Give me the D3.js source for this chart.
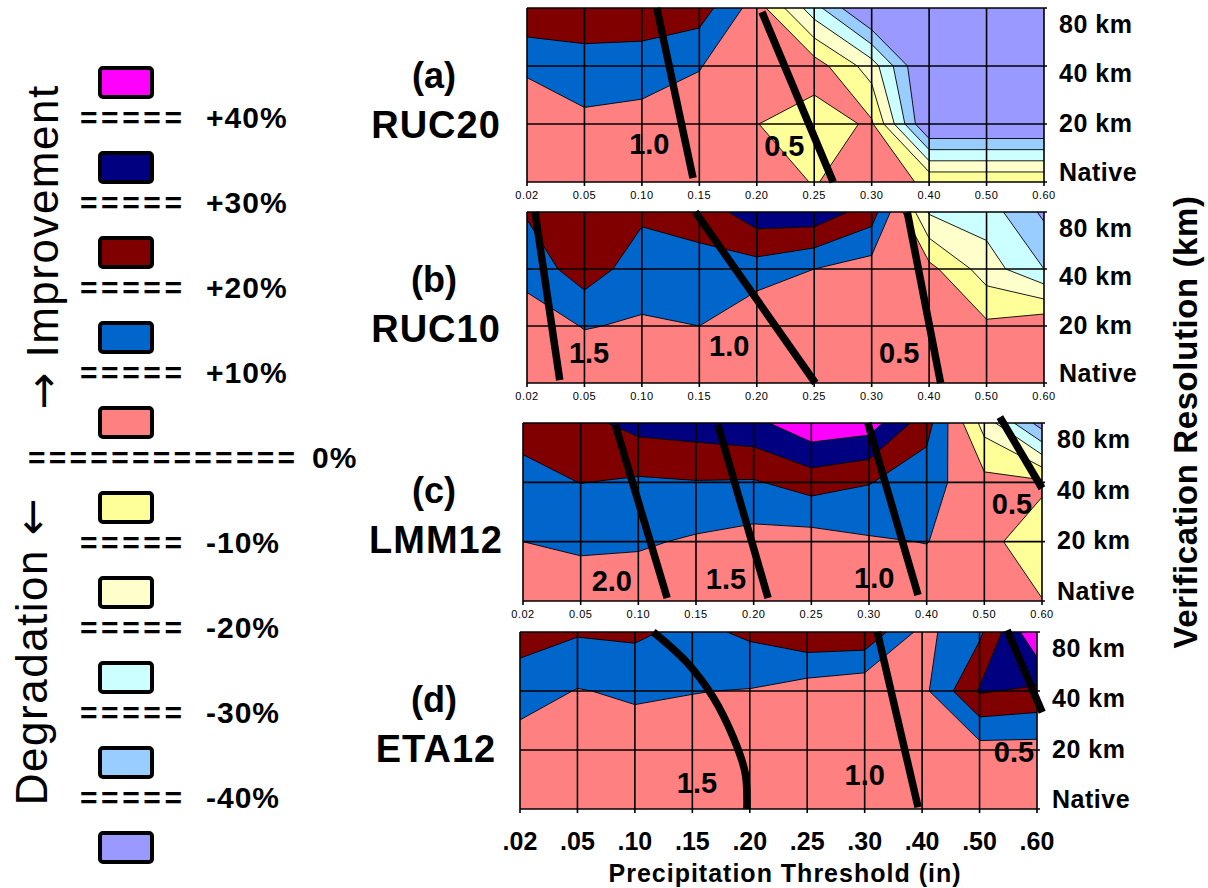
<!DOCTYPE html>
<html>
<head>
<meta charset="utf-8">
<script src="https://cdn.jsdelivr.net/npm/d3@7"></script>
<style>
body { margin: 0; background: #fff; }
svg text { font-family: "Liberation Sans", Arial, sans-serif; fill: #000; }
</style>
</head>
<body>
<div id="chart"></div>
<script>
var thresholds = [".02", ".05", ".10", ".15", ".20", ".25", ".30", ".40", ".50", ".60"];
var smallTicks = ["0.02", "0.05", "0.10", "0.15", "0.20", "0.25", "0.30", "0.40", "0.50", "0.60"];
var resolutions = ["80 km", "40 km", "20 km", "Native"];

var bandBreaks = [-40, -30, -20, -10, 0, 10, 20, 30, 40];
var bandColors = ["#9999ff", "#99ccff", "#ccffff", "#ffffcc", "#ffff99",
                  "#ff8080", "#0066cc", "#800000", "#000080", "#ff00ff"];
var legendLabels = ["+40%", "+30%", "+20%", "+10%", "0%", "-10%", "-20%", "-30%", "-40%"];

// % improvement, rows 80 km -> Native, columns = thresholds
var ruc20 = [
    [28, 28, 28, 25, 5, -26, -55, -55, -55, -55],
    [12, 15, 14, 10.5, 2, 5, -15, -55, -55, -55],
    [2, 8, 7, 5, 0.2, -5, 1.5, -53, -53, -53],
    [3, 3, 3, 3, 3, -0.3, 3, -1, -1, -1]
];
var ruc10 = [
    [21, 27, 22, 24, 36, 37, 25, -21, -25, -42],
    [13.5, 25.6, 14.3, 16.6, 15.7, 10, 5.3, 3, -15, -30],
    [5, 10.5, 8.9, 10, 1, 3, 3, 3, 2, 8],
    [3, 3, 3, 3, 3, 3, 3, 3, 3, 3]
];
var lmm12 = [
    [24, 27, 33.5, 35, 37.3, 47.4, 45, 24, -14, -45],
    [16.5, 20.2, 18.5, 19.5, 19.1, 24.4, 20.5, 14, 3, 2],
    [10, 12.2, 11.4, 8.6, 6.1, 5.4, 8.8, 10.3, 3, -6],
    [3, 3, 3, 3, 3, 3, 3, 3, 3, 0.3]
];
var eta12 = [
    [24, 21, 22, 17, 22, 28, 28, 7, 18, 49],
    [15, 9.5, 11.5, 10.3, 9.5, 5, 2, 7, 31, 28],
    [4.8, 4, 5, 5, 5, 5, 5, 5, 6, 6],
    [3, 3, 3, 3, 3, 3, 3, 3, 3, 3]
];

// bias contours: [threshold index, resolution index (0 = Native, 3 = 80 km)]
var ruc20Bias = [
    {label: "1.0", line: [[2.26, 3], [2.89, 0.07]], at: [2.13, 0.66]},
    {label: "0.5", line: [[4.09, 2.93], [5.33, 0]], at: [4.48, 0.62]}
];
var ruc10Bias = [
    {label: "1.5", line: [[0.14, 3], [0.57, 0.05]], at: [1.08, 0.53]},
    {label: "1.0", line: [[2.93, 3], [5.02, 0]], at: [3.52, 0.65]},
    {label: "0.5", line: [[6.62, 3], [7.2, 0]], at: [6.48, 0.53]}
];
var lmm12Bias = [
    {label: "2.0", line: [[1.6, 2.97], [2.5, 0.05]], at: [1.54, 0.34]},
    {label: "1.5", line: [[3.38, 2.97], [4.25, 0.05]], at: [3.52, 0.37]},
    {label: "1.0", line: [[5.98, 3], [6.85, 0.1]], at: [6.09, 0.4]},
    {label: "0.5", line: [[8.27, 3.1], [9.0, 1.9]], at: [8.48, 1.65]}
];
var eta12Bias = [
    {label: "1.5", line: [[2.32, 3], [2.91, 2.48], [3.36, 1.9], [3.71, 1.22], [3.92, 0.61], [3.95, 0]], at: [3.08, 0.44]},
    {label: "1.0", line: [[6.22, 3], [6.93, 0.03]], at: [6.0, 0.58]},
    {label: "0.5", line: [[8.48, 3.03], [9.09, 1.64]], at: [8.6, 0.97]}
];

var panels = [
    {tag: "(a)", model: "RUC20", values: ruc20, bias: ruc20Bias, x0: 527, x1: 1044, y0: 8, y1: 182},
    {tag: "(b)", model: "RUC10", values: ruc10, bias: ruc10Bias, x0: 527, x1: 1044, y0: 212, y1: 383},
    {tag: "(c)", model: "LMM12", values: lmm12, bias: lmm12Bias, x0: 523, x1: 1042, y0: 423, y1: 601},
    {tag: "(d)", model: "ETA12", values: eta12, bias: eta12Bias, x0: 520, x1: 1037, y0: 632, y1: 809}
];

var full_width = 1208, full_height = 888;

var svg = d3.select("#chart")
    .append("svg")
    .attr("width", full_width)
    .attr("height", full_height);

var nx = thresholds.length, ny = resolutions.length;

// contour the negated field so that at saddle cells the higher values stay joined
var contours = d3.contours()
    .size([nx, ny])
    .thresholds(bandBreaks.map(function(t) { return -t; }));

panels.forEach(function(p, k) {
    var x = d3.scaleLinear().domain([0, nx - 1]).range([p.x0, p.x1]);
    var row = d3.scaleLinear().domain([0, ny - 1]).range([p.y0, p.y1]);   // 0 = 80 km
    var res = d3.scaleLinear().domain([0, ny - 1]).range([p.y1, p.y0]);   // 0 = Native
    var label_y = d3.scalePoint().domain(resolutions).range([p.y0 + 16, p.y1 - 10]);

    var proj = d3.geoTransform({
        point: function(cx, cy) { this.stream.point(x(cx - 0.5), row(cy - 0.5)); }
    });
    var path = d3.geoPath(proj);

    svg.append("clipPath")
        .attr("id", "clip" + k)
        .append("rect")
        .attr("x", p.x0).attr("y", p.y0)
        .attr("width", p.x1 - p.x0).attr("height", p.y1 - p.y0);

    var g = svg.append("g").attr("clip-path", "url(#clip" + k + ")");

    g.append("rect")
        .attr("x", p.x0).attr("y", p.y0)
        .attr("width", p.x1 - p.x0).attr("height", p.y1 - p.y0)
        .attr("fill", bandColors[bandColors.length - 1]);

    var neg = d3.merge(p.values).map(function(v) { return -v; });

    // each polygon is the area at or below one break: paint largest first
    g.selectAll("path.band")
        .data(contours(neg))
        .enter().append("path")
        .attr("class", "band")
        .attr("d", path)
        .attr("fill", function(d) { return bandColors[bandBreaks.indexOf(-d.value)]; })
        .attr("stroke", "#000")
        .attr("stroke-width", 0.9)
        .attr("stroke-linejoin", "round");

    // grid
    svg.append("g").selectAll("line.v")
        .data(thresholds)
        .enter().append("line")
        .attr("x1", function(d, i) { return x(i); })
        .attr("x2", function(d, i) { return x(i); })
        .attr("y1", p.y0)
        .attr("y2", p.y1 + 4)
        .attr("stroke", "#000")
        .attr("stroke-width", 1.6);

    svg.append("g").selectAll("line.h")
        .data(resolutions)
        .enter().append("line")
        .attr("x1", p.x0)
        .attr("x2", p.x1 + 3)
        .attr("y1", function(d, i) { return row(i); })
        .attr("y2", function(d, i) { return row(i); })
        .attr("stroke", "#000")
        .attr("stroke-width", 1.6);

    // bias contours
    var line = d3.line()
        .x(function(d) { return x(d[0]); })
        .y(function(d) { return res(d[1]); })
        .curve(d3.curveCatmullRom);

    svg.append("g").selectAll("path.bias")
        .data(p.bias)
        .enter().append("path")
        .attr("d", function(d) { return line(d.line); })
        .attr("fill", "none")
        .attr("stroke", "#000")
        .attr("stroke-width", 7.5);

    svg.append("g").selectAll("text.bias")
        .data(p.bias)
        .enter().append("text")
        .attr("x", function(d) { return x(d.at[0]); })
        .attr("y", function(d) { return res(d.at[1]); })
        .attr("dy", "0.36em")
        .attr("text-anchor", "middle")
        .style("font-size", "29px")
        .style("font-weight", "bold")
        .text(function(d) { return d.label; });

    // resolution labels
    svg.append("g").selectAll("text.res")
        .data(resolutions)
        .enter().append("text")
        .attr("x", p.x1 + 15)
        .attr("y", function(d) { return label_y(d); })
        .attr("dy", "0.36em")
        .style("font-size", "25px")
        .style("font-weight", "bold")
        .style("letter-spacing", "0.5px")
        .text(function(d) { return d; });

    // panel title
    svg.append("text")
        .attr("x", 434).attr("y", p.y0 + 80)
        .attr("text-anchor", "middle")
        .style("font-size", "36px")
        .style("font-weight", "bold")
        .text(p.tag);
    svg.append("text")
        .attr("x", 436).attr("y", p.y0 + 130)
        .attr("text-anchor", "middle")
        .style("font-size", "38px")
        .style("font-weight", "bold")
        .style("letter-spacing", "1px")
        .text(p.model);

    if (k < 3) {
        svg.append("g").selectAll("text.tick")
            .data(smallTicks)
            .enter().append("text")
            .attr("x", function(d, i) { return x(i); })
            .attr("y", p.y1 + 13)
            .attr("dy", "0.35em")
            .attr("text-anchor", "middle")
            .style("font-size", "11px")
            .style("letter-spacing", "0.5px")
            .text(function(d) { return d; });
    } else {
        svg.append("g").selectAll("text.tick")
            .data(thresholds)
            .enter().append("text")
            .attr("x", function(d, i) { return x(i); })
            .attr("y", p.y1 + 41)
            .attr("text-anchor", "middle")
            .style("font-size", "25px")
            .style("font-weight", "bold")
            .text(function(d) { return d; });
        svg.append("text")
            .attr("x", 785).attr("y", 882)
            .attr("text-anchor", "middle")
            .style("font-size", "25px")
            .style("font-weight", "bold")
            .style("letter-spacing", "1px")
            .text("Precipitation Threshold (in)");
    }
});

// right axis title
svg.append("text")
    .attr("transform", "translate(1197,422) rotate(-90)")
    .attr("text-anchor", "middle")
    .style("font-size", "33px")
    .style("font-weight", "bold")
    .style("letter-spacing", "0.6px")
    .text("Verification Resolution (km)");

// legend
var legend_y = d3.scaleLinear().domain([0, bandColors.length - 1]).range([68, 833]);
var legendColors = bandColors.slice().reverse();

svg.append("g").selectAll("rect.key")
    .data(legendColors)
    .enter().append("rect")
    .attr("x", 100)
    .attr("y", function(d, i) { return legend_y(i); })
    .attr("width", 52)
    .attr("height", 29)
    .attr("rx", 3)
    .attr("fill", function(d) { return d; })
    .attr("stroke", "#000")
    .attr("stroke-width", 4);

svg.append("g").selectAll("text.eq")
    .data(legendLabels)
    .enter().append("text")
    .attr("x", function(d) { return d === "0%" ? 28 : 80; })
    .attr("y", function(d, i) { return legend_y(i) + 60; })
    .attr("textLength", function(d) { return d === "0%" ? 267 : 102; })
    .attr("lengthAdjust", "spacing")
    .style("font-size", "30px")
    .style("font-weight", "bold")
    .text(function(d) { return d === "0%" ? "=============" : "====="; });

svg.append("g").selectAll("text.pct")
    .data(legendLabels)
    .enter().append("text")
    .attr("x", function(d) { return d === "0%" ? 312 : 206; })
    .attr("y", function(d, i) { return legend_y(i) + 60; })
    .style("font-size", "30px")
    .style("font-weight", "bold")
    .style("letter-spacing", "1px")
    .text(function(d) { return d; });

var up = svg.append("text")
    .attr("transform", "translate(58,247) rotate(-90)")
    .attr("text-anchor", "middle")
    .style("font-size", "44px")
    .style("letter-spacing", "1.5px");
up.append("tspan").style("font-family", "DejaVu Sans").text("\u2192");
up.append("tspan").text(" Improvement");

var down = svg.append("text")
    .attr("transform", "translate(47,651) rotate(-90)")
    .attr("text-anchor", "middle")
    .style("font-size", "44px")
    .style("letter-spacing", "1.5px");
down.append("tspan").text("Degradation ");
down.append("tspan").style("font-family", "DejaVu Sans").text("\u2190");
</script>
</body>
</html>
